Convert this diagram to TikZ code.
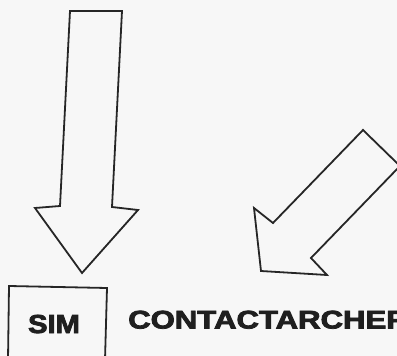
\documentclass[tikz,border=0pt]{standalone}
\usepackage{fontspec}
\setmainfont{Liberation Sans}[BoldFeatures={FakeBold=3}]
\begin{document}
\begin{tikzpicture}[x=1pt,y=-1pt,
  outline/.style={draw=black!85, line width=1.8pt, line join=miter},
  label/.style={inner sep=0pt, font=\bfseries, text=black!88}]
\useasboundingbox (0,0) rectangle (397,356);
\clip (0,0) rectangle (397,356);
\fill[black!3] (0,0) rectangle (397,356);
% hollow arrow pointing down
\draw[outline] (70,11) -- (122,11) -- (112,207) -- (138,210) -- (82,273)
  -- (35,208) -- (60,206) -- cycle;
% hollow arrow pointing down-left
\draw[outline] (363,130) -- (400,166) -- (311,258) -- (327,275) -- (261,271)
  -- (254,208) -- (273,223) -- cycle;
% open box around the first word
\draw[outline] (8,360) -- (9,286) -- (107,288) -- (105,360);
\node[label, anchor=base] (sim) at (54,333)
  {\fontsize{26}{26}\selectfont\scalebox{1.12}[1]{SIM}};
\node[label, anchor=base west] (contact) at (128,328.5)
  {\fontsize{25.5}{25.5}\selectfont\scalebox{1.22}[1]{CONTACTARCHEF}};
\end{tikzpicture}
\end{document}
